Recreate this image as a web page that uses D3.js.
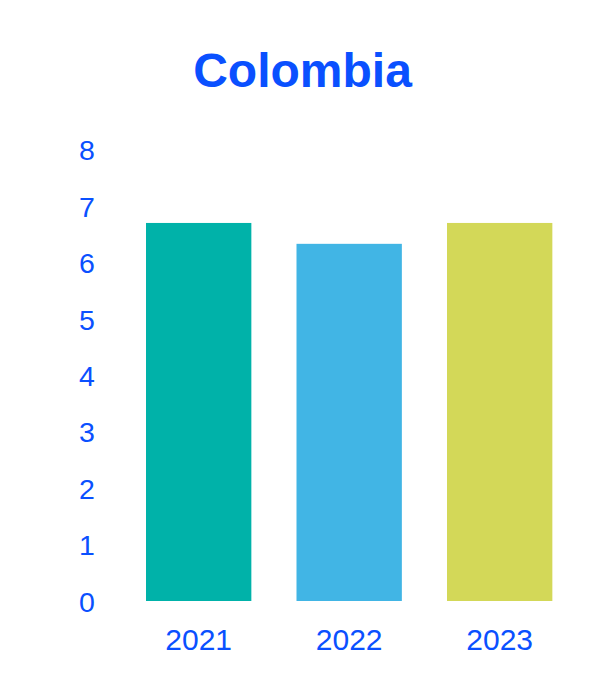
<!DOCTYPE html>
<html>
<head>
<meta charset="utf-8">
<script src="https://cdn.jsdelivr.net/npm/d3@7"></script>
<style>
  html, body { margin: 0; padding: 0; background: #ffffff; }
  svg { display: block; }
</style>
</head>
<body>
<svg id="chart" width="614" height="695"></svg>
<script>
const title = "Colombia";
const categories = ["2021", "2022", "2023"];
const values = [6.7, 6.33, 6.7];
const barColors = ["#00B2A9", "#41B5E5", "#D3D858"];
const yTicks = [0, 1, 2, 3, 4, 5, 6, 7, 8];

const textColor = "#0A50FF";
const svg = d3.select("#chart");

const x = d3.scaleBand()
  .domain(categories)
  .range([100.85, 597.5])
  .padding(0.3);

const y = d3.scaleLinear()
  .domain([0, 8])
  .range([601, 149.6]);

svg.append("text")
  .attr("x", 302.5)
  .attr("y", 87)
  .attr("text-anchor", "middle")
  .attr("font-family", "Liberation Sans, Arial, sans-serif")
  .attr("font-weight", "bold")
  .attr("font-size", 48)
  .attr("fill", textColor)
  .text(title);

svg.selectAll("rect.bar")
  .data(categories)
  .enter()
  .append("rect")
  .attr("class", "bar")
  .attr("x", d => x(d))
  .attr("width", x.bandwidth())
  .attr("y", (d, i) => y(values[i]))
  .attr("height", (d, i) => y(0) - y(values[i]))
  .attr("fill", (d, i) => barColors[i]);

// Y axis
const yAxis = d3.axisLeft(y).tickValues(yTicks).tickFormat(d3.format("d")).tickSize(0).tickPadding(0);
const yg = svg.append("g").attr("transform", "translate(87,0)").call(yAxis);
yg.select(".domain").remove();
yg.selectAll("text")
  .attr("text-anchor", "middle")
  .attr("x", 0)
  .attr("dy", "0.36em")
  .attr("font-family", "Liberation Sans, Arial, sans-serif")
  .attr("font-size", 28.5)
  .attr("fill", textColor);

// X axis
const xAxis = d3.axisBottom(x).tickSize(0).tickPadding(0);
const xg = svg.append("g").attr("transform", "translate(0,601)").call(xAxis);
xg.select(".domain").remove();
xg.selectAll("text")
  .attr("y", 49)
  .attr("dy", 0)
  .attr("font-family", "Liberation Sans, Arial, sans-serif")
  .attr("font-size", 30)
  .attr("fill", textColor);
</script>
</body>
</html>
